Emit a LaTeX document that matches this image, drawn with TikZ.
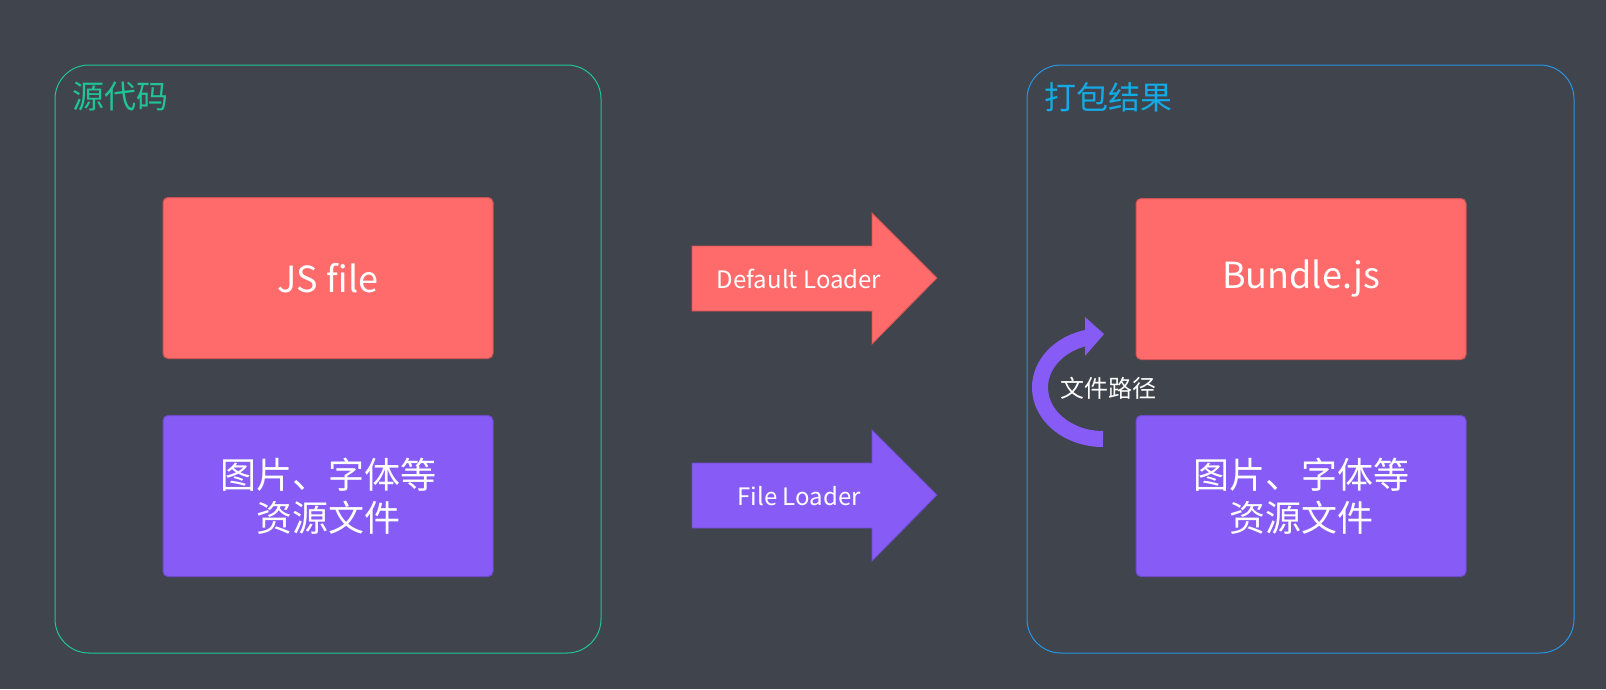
\documentclass[tikz,border=0pt]{standalone}
\usepackage{fontspec}
\setmainfont{Noto Sans CJK SC}
\definecolor{bgc}{RGB}{64,68,76}
\definecolor{myred}{RGB}{255,107,107}
\definecolor{myredline}{RGB}{205,85,85}
\definecolor{mypurple}{RGB}{135,92,246}
\definecolor{mypurpleline}{RGB}{110,75,205}
\definecolor{myteal}{RGB}{32,196,150}
\definecolor{myblue}{RGB}{40,150,225}
\definecolor{mybluetext}{RGB}{20,170,230}
\begin{document}
\begin{tikzpicture}[x=1pt,y=-1pt,
  container/.style={line width=1pt,rounded corners=34pt},
  box/.style={minimum width=330pt,minimum height=161pt,rounded corners=5pt,line width=1pt,text=white,align=center,inner sep=0pt},
  redbox/.style={box,fill=myred,draw=myredline,font=\fontsize{36}{43}\selectfont},
  purplebox/.style={box,fill=mypurple,draw=mypurpleline,font=\fontsize{36}{43}\selectfont},
  title/.style={anchor=west,inner sep=0pt,font=\fontsize{32}{38}\selectfont},
  arrowlabel/.style={text=white,inner sep=0pt,font=\fontsize{24}{28}\selectfont}
]
\useasboundingbox (0,0) rectangle (1606,689);
\fill[bgc] (0,0) rectangle (1606,689);

% containers
\draw[container,draw=myteal] (55,65) rectangle (601,653);
\draw[container,draw=myblue] (1027,65) rectangle (1574,653);
\node[title,text=myteal] (srctitle) at (72,97) {源代码};
\node[title,text=mybluetext] (outtitle) at (1044,97) {打包结果};

% left boxes
\node[redbox] (js) at (328,278) {JS file};
\node[purplebox] (res) at (328,496) {图片、字体等\\资源文件};

% right boxes
\node[redbox] (bundle) at (1301,279) {Bundle.js};
\node[purplebox] (res2) at (1301,496) {图片、字体等\\资源文件};

% big arrows
\filldraw[fill=myred,draw=myredline,line width=0.8pt]
  (692,246) -- (872,246) -- (872,213) -- (937,278) -- (872,344) -- (872,311) -- (692,311) -- cycle;
\node[arrowlabel] (dl) at (799,279) {Default Loader};
\filldraw[fill=mypurple,draw=mypurpleline,line width=0.8pt]
  (692,463) -- (872,463) -- (872,430) -- (937,495) -- (872,561) -- (872,528) -- (692,528) -- cycle;
\node[arrowlabel] (fl) at (799,496) {File Loader};

% curved arrow
\draw[mypurple,line width=16pt] (1103,439) arc[start angle=90,end angle=256,x radius=63,y radius=51.5];
\fill[mypurple] (1085,317) -- (1104,334) -- (1085,356) -- cycle;
\node[arrowlabel] (path) at (1108,388) {文件路径};
\end{tikzpicture}
\end{document}
